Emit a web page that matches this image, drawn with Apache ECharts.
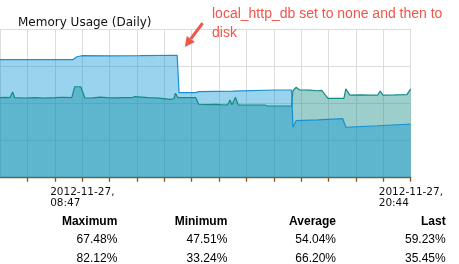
<!DOCTYPE html>
<html>
<head>
<meta charset="utf-8">
<script src="https://cdn.jsdelivr.net/npm/echarts@6/dist/echarts.min.js"></script>
<style>
html,body{margin:0;padding:0;background:#fff;}
#c{width:459px;height:264px;}
</style>
</head>
<body>
<div id="c"></div>
<script>
// x in hour-grid units (one vertical gridline per unit), y in percent
const seriesNames = ['Memory A', 'Memory B'];
const tealX = [0, 0.2, 0.36, 0.46, 0.54, 0.9, 1.3, 1.6, 2.0, 2.3, 2.62, 2.73, 2.95, 3.10, 3.4, 3.65, 3.9, 4.2, 4.5, 4.8, 4.93, 5.0, 5.4, 5.8, 6.2, 6.35, 6.41, 6.5, 6.8, 7.15, 7.26, 7.6, 7.9, 8.21, 8.32, 8.40, 8.47, 8.60, 8.70, 9.1, 9.67, 9.78, 10.2, 10.65, 10.70, 10.81, 10.95, 11.3, 11.61, 11.75, 11.98, 12.3, 12.56, 12.63, 12.78, 13.2, 13.5, 13.80, 13.88, 13.99, 14.4, 14.86, 15.0];
const tealY = [53.9, 54.1, 53.9, 57.7, 53.9, 53.7, 53.9, 53.6, 53.9, 54.2, 53.9, 61.3, 61.3, 53.7, 53.8, 54.3, 54.0, 53.8, 54.0, 53.9, 54.6, 53.9, 54.0, 53.6, 52.8, 53.2, 56.9, 53.9, 54.0, 53.9, 49.5, 49.2, 49.4, 49.0, 49.3, 52.4, 49.2, 54.2, 49.0, 49.0, 49.0, 48.3, 48.3, 48.3, 58.6, 60.9, 59.1, 59.0, 58.6, 58.9, 53.5, 53.5, 53.5, 59.8, 55.7, 55.8, 55.6, 55.7, 58.4, 55.7, 55.8, 56.0, 59.8];
const blueX = [0, 2.66, 2.81, 2.99, 4.0, 5.11, 6.47, 6.54, 7.15, 7.26, 8.5, 10.04, 10.65, 10.70, 10.81, 11.6, 12.52, 12.63, 13.8, 15.0];
const blueY = [79.5, 79.5, 81.5, 82.2, 82.1, 82.2, 82.5, 57.3, 57.3, 58.0, 58.4, 59.1, 59.1, 34.0, 38.4, 38.9, 39.8, 34.0, 35.0, 36.2];
const labelPositions = [3, 15];
const labelDates = ['2012-11-27,', '2012-11-27,'];
const labelTimes = ['08:47', '20:44'];
const titleText = 'Memory Usage (Daily)';
const noteText = 'local_http_db set to none and then to\ndisk';
const arrowFrom = [7.40, 104.2];
const arrowTo = [6.75, 88.1];
const statHeaders = ['Maximum', 'Minimum', 'Average', 'Last'];
const statsRow1 = ['67.48%', '47.51%', '54.04%', '59.23%'];
const statsRow2 = ['82.12%', '33.24%', '66.20%', '35.45%'];

const pair = (xs, ys) => xs.map((x, i) => [x, ys[i]]);
const chart = echarts.init(document.getElementById('c'), null, {renderer: 'canvas'});
const font = 'DejaVu Sans';
const colRight = [117.3, 227.3, 336, 445.7];

const tableGraphics = [];
statHeaders.forEach((h, i) => {
  tableGraphics.push({type: 'text', right: 459 - colRight[i], top: 216, style: {text: h, font: 'bold 12px "Liberation Sans"', fill: '#000', textAlign: 'right'}});
  tableGraphics.push({type: 'text', right: 459 - colRight[i], top: 234, style: {text: statsRow1[i], font: '12px "Liberation Sans"', fill: '#000', textAlign: 'right'}});
  tableGraphics.push({type: 'text', right: 459 - colRight[i], top: 252.5, style: {text: statsRow2[i], font: '12px "Liberation Sans"', fill: '#000', textAlign: 'right'}});
});

chart.setOption({
  animation: false,
  backgroundColor: '#fff',
  title: {text: titleText, left: 13, top: 12, textStyle: {fontFamily: font, fontSize: 12, fontWeight: 'normal', color: '#111'}},
  grid: {left: 0, right: 48.3, top: 29.3, bottom: 86.3, containLabel: false},
  xAxis: {
    type: 'value', min: 0, max: 15, interval: 1,
    axisLine: {lineStyle: {color: '#87531f', width: 1.3}},
    axisTick: {show: true, length: 4, lineStyle: {color: '#87531f', width: 1.3}},
    splitLine: {show: true, lineStyle: {color: '#dcdcdc', width: 1}},
    axisLabel: {
      show: true, margin: 9, hideOverlap: false, showMaxLabel: true, showMinLabel: false,
      formatter: function (v) {
        const idx = labelPositions.indexOf(Math.round(v));
        if (idx < 0 || Math.abs(v - Math.round(v)) > 1e-6) return '';
        return '{a|' + labelDates[idx] + '}\n{a|' + labelTimes[idx] + '}';
      },
      rich: {a: {width: 64, align: 'left', fontFamily: font, fontSize: 10.5, lineHeight: 11, color: '#111'}}
    }
  },
  yAxis: {
    type: 'value', min: 0, max: 100, interval: 25,
    axisLine: {show: false}, axisTick: {show: false}, axisLabel: {show: false},
    splitLine: {show: true, lineStyle: {color: '#dcdcdc', width: 1}}
  },
  series: [
    {name: seriesNames[0], type: 'line', data: pair(tealX, tealY), symbol: 'none', clip: true,
     lineStyle: {color: '#178a86', width: 1.2}, areaStyle: {color: 'rgba(20,140,130,0.42)', opacity: 1}},
    {name: seriesNames[1], type: 'line', data: pair(blueX, blueY), symbol: 'none', clip: true,
     lineStyle: {color: '#1591d2', width: 1.2}, areaStyle: {color: 'rgba(0,145,210,0.40)', opacity: 1}}
  ],
  graphic: tableGraphics
});

const p0 = chart.convertToPixel({gridIndex: 0}, arrowFrom);
const p1 = chart.convertToPixel({gridIndex: 0}, arrowTo);
const dx = p1[0] - p0[0], dy = p1[1] - p0[1];
const len = Math.sqrt(dx * dx + dy * dy);
const ux = dx / len, uy = dy / len;
const headL = 10, headW = 5;
const bx = p1[0] - ux * headL, by = p1[1] - uy * headL;
chart.setOption({
  graphic: tableGraphics.concat([
    {type: 'line', shape: {x1: p0[0], y1: p0[1], x2: bx, y2: by}, style: {stroke: '#f0554a', lineWidth: 3}, z: 100},
    {type: 'polygon', shape: {points: [[p1[0], p1[1]], [bx - uy * headW, by + ux * headW], [bx + uy * headW, by - ux * headW]]}, style: {fill: '#f0554a'}, z: 100},
    {type: 'text', left: 212, top: 5, style: {text: noteText, font: '14px "Liberation Sans"', fill: '#f0554a', lineHeight: 18.5}, z: 100}
  ])
});
</script>
</body>
</html>
